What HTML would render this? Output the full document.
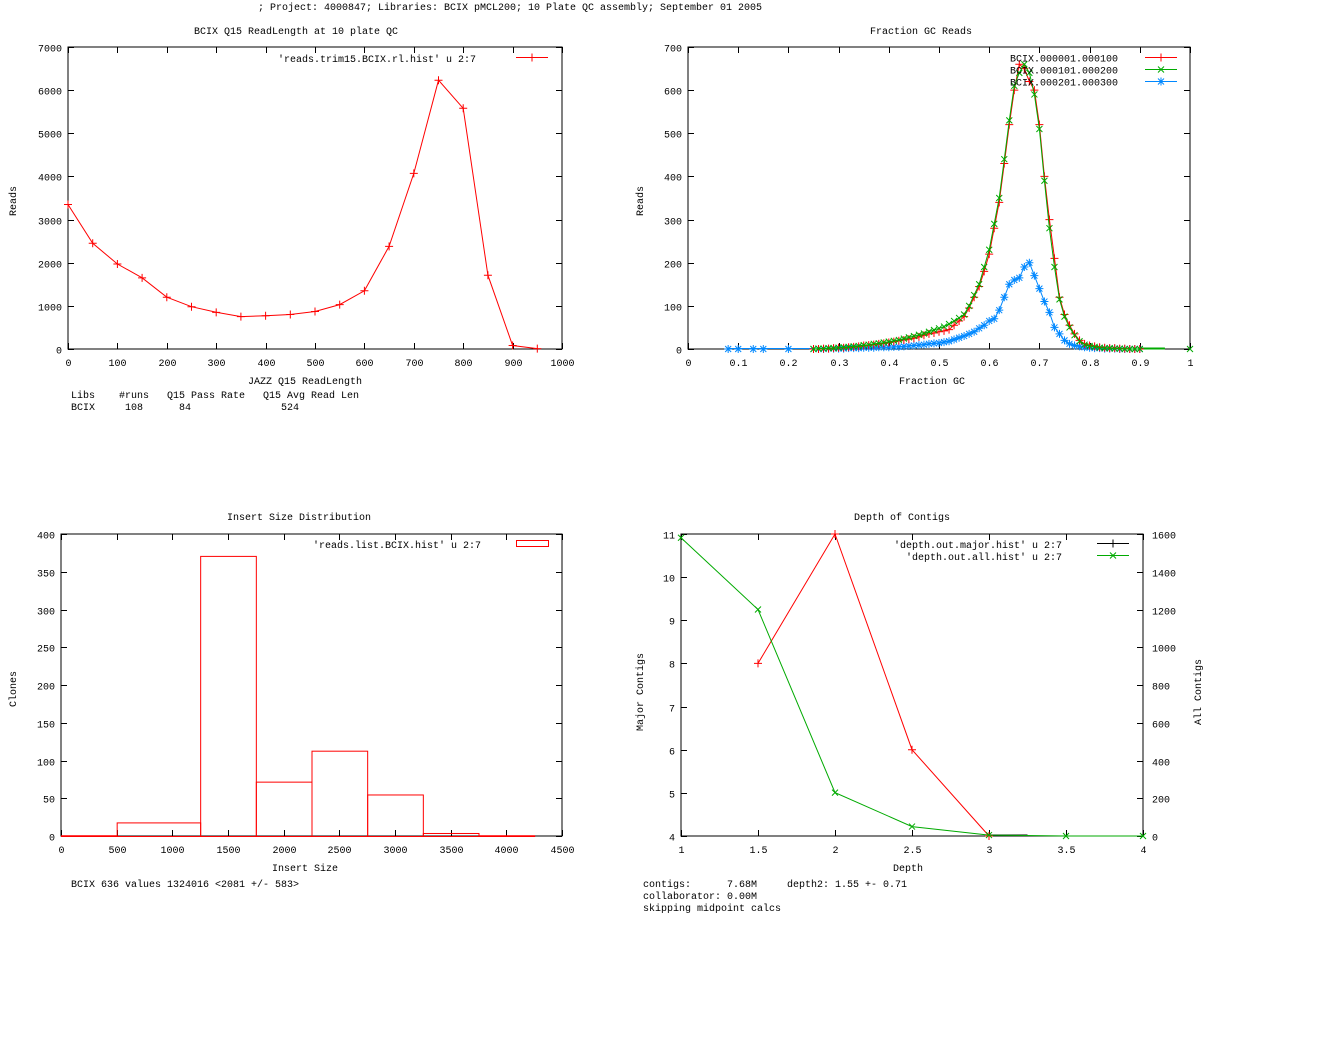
<!DOCTYPE html>
<html><head><meta charset="utf-8">
<style>
html,body{margin:0;padding:0;background:#fff;}
svg{display:block;}
text{font-family:"Liberation Mono","DejaVu Sans Mono",monospace;font-size:10px;fill:#000;}
</style></head>
<body>
<svg id="s" width="1344" height="1060" xmlns="http://www.w3.org/2000/svg">
<rect width="1344" height="1060" fill="#fff"/>
<text x="510" y="10" text-anchor="middle">; Project: 4000847; Libraries: BCIX pMCL200; 10 Plate QC assembly; September 01 2005</text>
<text x="296" y="34" text-anchor="middle">BCIX Q15 ReadLength at 10 plate QC</text>
<text x="921" y="34" text-anchor="middle">Fraction GC Reads</text>
<text x="299" y="520" text-anchor="middle">Insert Size Distribution</text>
<text x="902" y="520" text-anchor="middle">Depth of Contigs</text>
<text x="305" y="384" text-anchor="middle">JAZZ Q15 ReadLength</text>
<text x="71" y="398" xml:space="preserve" style="white-space:pre">Libs    #runs   Q15 Pass Rate   Q15 Avg Read Len</text>
<text x="71" y="410" xml:space="preserve" style="white-space:pre">BCIX     108      84               524</text>
<text transform="translate(16,201) rotate(-90)" text-anchor="middle">Reads</text>
<text transform="translate(643,201) rotate(-90)" text-anchor="middle">Reads</text>
<text x="932" y="384" text-anchor="middle">Fraction GC</text>
<text transform="translate(16,689) rotate(-90)" text-anchor="middle">Clones</text>
<text x="305" y="871" text-anchor="middle">Insert Size</text>
<text x="71" y="887">BCIX 636 values 1324016 &lt;2081 +/- 583&gt;</text>
<text transform="translate(643,692) rotate(-90)" text-anchor="middle">Major Contigs</text>
<text transform="translate(1201,692) rotate(-90)" text-anchor="middle">All Contigs</text>
<text x="908" y="871" text-anchor="middle">Depth</text>
<text x="643" y="887" xml:space="preserve" style="white-space:pre">contigs:      7.68M     depth2: 1.55 +- 0.71</text>
<text x="643" y="899">collaborator: 0.00M</text>
<text x="643" y="911">skipping midpoint calcs</text>
</svg>
<script>
// ---- Read length chart data
const rlX = [0,50,100,150,200,250,300,350,400,450,500,550,600,650,700,750,800,850,900,950];
const rlY = [3350,2450,1970,1650,1200,980,850,750,770,800,870,1030,1350,2380,4070,6230,5580,1710,80,10];
const rlXTicks = [0,100,200,300,400,500,600,700,800,900,1000];
const rlYTicks = [0,1000,2000,3000,4000,5000,6000,7000];
// ---- GC chart data
const gcX = [0.25,0.26,0.27,0.28,0.29,0.30,0.31,0.32,0.33,0.34,0.35,0.36,0.37,0.38,0.39,0.40,0.41,0.42,0.43,0.44,0.45,0.46,0.47,0.48,0.49,0.50,0.51,0.52,0.53,0.54,0.55,0.56,0.57,0.58,0.59,0.60,0.61,0.62,0.63,0.64,0.65,0.66,0.67,0.68,0.69,0.70,0.71,0.72,0.73,0.74,0.75,0.76,0.77,0.78,0.79,0.80,0.81,0.82,0.83,0.84,0.85,0.86,0.87,0.88,0.89,0.90];
const gcRed = [0,0,1,1,2,3,3,4,5,6,8,9,10,12,13,15,17,19,21,23,25,28,32,35,37,40,42,45,55,65,75,95,120,145,180,220,280,340,430,520,600,660,650,620,600,520,400,300,210,120,80,55,35,20,12,8,6,4,3,2,2,1,1,0,0,0];
const gcGreen = [0,1,1,2,2,3,4,5,6,7,9,10,12,13,15,17,19,21,24,27,30,33,36,40,44,48,52,58,65,72,80,100,125,150,190,230,290,350,440,530,610,640,660,640,590,510,390,280,190,115,75,50,32,18,10,7,5,3,2,2,1,1,0,0,0,0];
const gcBlue = [0,0,0,1,1,1,1,2,2,2,3,3,3,4,4,4,5,5,6,7,8,9,10,12,13,14,16,18,22,26,30,35,40,48,55,65,70,90,120,150,160,165,190,200,170,140,110,85,50,35,20,12,8,6,4,3,2,2,1,1,1,0,0,0,0,0];
const gcOutX = [0.08,0.1,0.13,0.15,0.2];
const gcXTicks = [0,0.1,0.2,0.3,0.4,0.5,0.6,0.7,0.8,0.9,1];
const gcYTicks = [0,100,200,300,400,500,600,700];
// ---- Insert size data
const insEdges = [0,500,1250,1750,2250,2750,3250,3750,4250];
const insCounts = [1,18,371,72,113,55,4,1];
const insXTicks = [0,500,1000,1500,2000,2500,3000,3500,4000,4500];
const insYTicks = [0,50,100,150,200,250,300,350,400];
// ---- Depth data
const depMajX = [1.5,2,2.5,3];
const depMajY = [8,11,6,4];
const depAllX = [1,1.5,2,2.5,3,3.5,4];
const depAllY = [1580,1200,230,50,5,0,0];
const depXTicks = [1,1.5,2,2.5,3,3.5,4];
const depYTicks = [4,5,6,7,8,9,10,11];
const depY2Ticks = [0,200,400,600,800,1000,1200,1400,1600];

const S = document.getElementById('s');
const NS = 'http://www.w3.org/2000/svg';
function mk(tag, attrs, name, txt){
  const e = document.createElementNS(NS, tag);
  for (const k in attrs) e.setAttribute(k, attrs[k]);
  
  
  if (txt !== undefined) e.textContent = txt;
  S.appendChild(e);
  return e;
}
function scale(d0,d1,r0,r1){ return v => r0 + (v-d0)/(d1-d0)*(r1-r0); }
function frame(p, xt, yt, y2t, fmtX, prefix){
  mk('rect',{x:p.x0,y:p.y0,width:p.x1-p.x0,height:p.y1-p.y0,fill:'none',stroke:'#000','stroke-width':1}, prefix+'-plot-frame');
  xt.forEach(v=>{
    const x = Math.round(p.sx(v))+0.5;
    mk('line',{x1:x,y1:p.y1,x2:x,y2:p.y1-6,stroke:'#000'}, prefix+'-x-tick');
    mk('line',{x1:x,y1:p.y0,x2:x,y2:p.y0+6,stroke:'#000'}, prefix+'-x-tick-top');
    mk('text',{x:x,y:p.y1+17,'text-anchor':'middle'}, prefix+'-x-tick-label', fmtX(v));
  });
  yt.forEach(v=>{
    const y = Math.round(p.sy(v))+0.5;
    mk('line',{x1:p.x0,y1:y,x2:p.x0+6,y2:y,stroke:'#000'}, prefix+'-y-tick');
    if(!y2t) mk('line',{x1:p.x1,y1:y,x2:p.x1-6,y2:y,stroke:'#000'}, prefix+'-y-tick-right');
    mk('text',{x:p.x0-6,y:y+4,'text-anchor':'end'}, prefix+'-y-tick-label', String(v));
  });
  if (y2t) y2t.forEach(v=>{
    const y = Math.round(p.sy2(v))+0.5;
    mk('line',{x1:p.x1,y1:y,x2:p.x1-6,y2:y,stroke:'#000'}, prefix+'-y2-tick');
    mk('text',{x:p.x1+9,y:y+4,'text-anchor':'start'}, prefix+'-y2-tick-label', String(v));
  });
}
function poly(xs, ys, sx, sy, color, name){
  const pts = xs.map((x,i)=>sx(x).toFixed(1)+','+sy(ys[i]).toFixed(1)).join(' ');
  mk('polyline',{points:pts,fill:'none',stroke:color,'stroke-width':1}, name);
}
function marker(type, x, y, color, name){
  let d='';
  if(type==='+'||type==='*') d+=`M${x-4},${y}H${x+4}M${x},${y-4}V${y+4}`;
  if(type==='x'||type==='*') d+=`M${x-3},${y-3}L${x+3},${y+3}M${x-3},${y+3}L${x+3},${y-3}`;
  mk('path',{d:d,stroke:color,'stroke-width':1,fill:'none'}, name);
}
const fmt = v => String(v);

// ---- Chart 1: read length
(function(){
  const p = {x0:68,x1:562,y0:47,y1:349};
  p.sx = scale(0,1000,p.x0,p.x1); p.sy = scale(0,7000,p.y1,p.y0);
  frame(p, rlXTicks, rlYTicks, null, fmt, 'readlength');
  poly(rlX, rlY, p.sx, p.sy, '#f00', 'readlength-line');
  rlX.forEach((x,i)=>marker('+', p.sx(x), p.sy(rlY[i]), '#f00', 'readlength-point'));
  mk('text',{x:476,y:62,'text-anchor':'end'},'readlength-legend-label',"'reads.trim15.BCIX.rl.hist' u 2:7");
  mk('line',{x1:516,y1:57.5,x2:548,y2:57.5,stroke:'#f00'},'readlength-legend-line');
  marker('+',532,57.5,'#f00','readlength-legend-marker');
})();

// ---- Chart 2: GC
(function(){
  const p = {x0:688,x1:1190,y0:47,y1:349};
  p.sx = scale(0,1,p.x0,p.x1); p.sy = scale(0,700,p.y1,p.y0);
  frame(p, gcXTicks, gcYTicks, null, fmt, 'gc');
  mk('line',{x1:p.sx(0.9),y1:p.y1-0.5,x2:p.sx(0.95),y2:p.y1-0.5,stroke:'#0a0','stroke-width':2},'gc-green-tail');
  mk('line',{x1:p.sx(0.08),y1:p.y1-0.5,x2:p.sx(0.25),y2:p.y1-0.5,stroke:'#08f','stroke-width':1},'gc-blue-tail');
  poly(gcX, gcBlue, p.sx, p.sy, '#08f', 'gc-blue-line');
  gcX.forEach((x,i)=>marker('*', p.sx(x), p.sy(gcBlue[i]), '#08f', 'gc-blue-point'));
  gcOutX.forEach(x=>marker('*', p.sx(x), p.sy(0), '#08f', 'gc-blue-outlier'));
  poly(gcX, gcRed, p.sx, p.sy, '#f00', 'gc-red-line');
  gcX.forEach((x,i)=>marker('+', p.sx(x), p.sy(gcRed[i]), '#f00', 'gc-red-point'));
  poly(gcX, gcGreen, p.sx, p.sy, '#0a0', 'gc-green-line');
  gcX.forEach((x,i)=>marker('x', p.sx(x), p.sy(gcGreen[i]), '#0a0', 'gc-green-point'));
  marker('x', p.sx(1), p.sy(0), '#0a0', 'gc-green-outlier');
  const L=[['BCIX.000001.000100','#f00','+'],['BCIX.000101.000200','#0a0','x'],['BCIX.000201.000300','#08f','*']];
  L.forEach((l,i)=>{
    const y=57.5+12*i;
    mk('text',{x:1118,y:y+4,'text-anchor':'end'},'gc-legend-label',l[0]);
    mk('line',{x1:1145,y1:y,x2:1177,y2:y,stroke:l[1]},'gc-legend-line');
    marker(l[2],1161,y,l[1],'gc-legend-marker');
  });
})();

// ---- Chart 3: insert size
(function(){
  const p = {x0:61,x1:562,y0:534,y1:836};
  p.sx = scale(0,4500,p.x0,p.x1); p.sy = scale(0,400,p.y1,p.y0);
  frame(p, insXTicks, insYTicks, null, fmt, 'insert');
  insCounts.forEach((c,i)=>{
    const x0=p.sx(insEdges[i]), x1=p.sx(insEdges[i+1]), y=p.sy(c);
    mk('rect',{x:x0+0.5,y:y+0.5,width:x1-x0,height:p.y1-y,fill:'none',stroke:'#f00'},'insert-bar');
  });
  mk('text',{x:481,y:548,'text-anchor':'end'},'insert-legend-label',"'reads.list.BCIX.hist' u 2:7");
  mk('rect',{x:516.5,y:540.5,width:32,height:6,fill:'none',stroke:'#f00'},'insert-legend-swatch');
})();

// ---- Chart 4: depth
(function(){
  const p = {x0:681,x1:1143,y0:534,y1:836};
  p.sx = scale(1,4,p.x0,p.x1); p.sy = scale(4,11,p.y1,p.y0); p.sy2 = scale(0,1600,p.y1,p.y0);
  frame(p, depXTicks, depYTicks, depY2Ticks, fmt, 'depth');
  mk('line',{x1:p.sx(3),y1:p.y1-0.5,x2:p.sx(3.25),y2:p.y1-0.5,stroke:'#000','stroke-width':2},'depth-black-segment');
  poly(depMajX, depMajY, p.sx, p.sy, '#f00', 'depth-major-line');
  depMajX.forEach((x,i)=>marker('+', p.sx(x), p.sy(depMajY[i]), '#f00', 'depth-major-point'));
  poly(depAllX, depAllY, p.sx, p.sy2, '#0a0', 'depth-all-line');
  depAllX.forEach((x,i)=>marker('x', p.sx(x), p.sy2(depAllY[i]), '#0a0', 'depth-all-point'));
  mk('text',{x:1062,y:548,'text-anchor':'end'},'depth-legend-major-label',"'depth.out.major.hist' u 2:7");
  mk('line',{x1:1097,y1:543.5,x2:1129,y2:543.5,stroke:'#000'},'depth-legend-major-line');
  marker('+',1113,543.5,'#000','depth-legend-major-marker');
  mk('text',{x:1062,y:560,'text-anchor':'end'},'depth-legend-all-label',"'depth.out.all.hist' u 2:7");
  mk('line',{x1:1097,y1:555.5,x2:1129,y2:555.5,stroke:'#0a0'},'depth-legend-all-line');
  marker('x',1113,555.5,'#0a0','depth-legend-all-marker');
})();
</script>
</body></html>
